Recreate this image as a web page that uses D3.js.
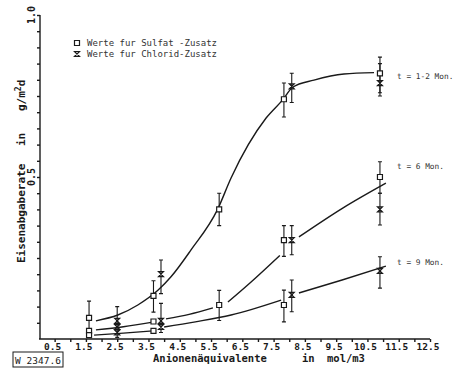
<html>
  <head>
    <meta charset="utf-8">
    <script src="https://d3js.org/d3.v7.min.js"></script>
    <style type="text/css">
      body {
        margin: 0;
        padding: 0;
        background: #fff;
      }
      text {
        font-family: 'DejaVu Sans Mono', monospace;
        fill: #1a1a1a;
      }
      .mark, .curve, .err, .axis {
        fill: none;
        stroke: #1a1a1a;
      }
    </style>
  </head>
  <body>
    <svg id="chart" width="454" height="368"></svg>

    <script>
      /* Data */
      const xTicks = [0.5, 1.5, 2.5, 3.5, 4.5, 5.5, 6.5, 7.5, 8.5, 9.5, 10.5, 11.5, 12.5]
      const yTicks = [0.5, 1.0]
      const periods = ["t = 1-2 Mon.", "t = 6 Mon.", "t = 9 Mon."]
      const legendLabels = ["Werte fur Sulfat -Zusatz", "Werte fur Chlorid-Zusatz"]

      // Sulfat points: x, y, lower, upper (null = no error bar)
      const sulfat12 = [[1.6, 0.065, 0.02, 0.117], [3.66, 0.133, 0.083, 0.18], [5.76, 0.40, 0.35, 0.45], [7.83, 0.74, 0.685, 0.79], [10.9, 0.82, 0.76, 0.87]]
      const sulfat6 = [[1.6, 0.025, null, null], [3.66, 0.054, null, null], [5.76, 0.105, 0.057, 0.15], [7.83, 0.305, 0.255, 0.35], [10.9, 0.50, 0.45, 0.547]]
      const sulfat9 = [[1.6, 0.012, null, null], [3.66, 0.025, null, null], [7.83, 0.105, 0.053, 0.151]]

      // Chlorid points
      const chlorid12 = [[2.5, 0.056, 0.005, 0.10], [3.9, 0.20, 0.14, 0.244], [8.08, 0.78, 0.73, 0.82], [10.9, 0.79, 0.75, 0.85]]
      const chlorid6 = [[2.5, 0.037, null, null], [3.9, 0.056, 0.02, 0.11], [8.08, 0.305, 0.26, 0.35], [10.9, 0.40, 0.352, 0.45]]
      const chlorid9 = [[2.5, 0.02, null, null], [3.9, 0.037, null, null], [8.08, 0.136, 0.084, 0.182], [10.9, 0.21, 0.157, 0.254]]

      // fitted curves (null = gap in the drawn line)
      const curve12 = [[1.82, 0.056], [2.52, 0.074], [3.16, 0.105], [3.81, 0.151], [4.22, 0.192], [4.86, 0.275], [5.71, 0.40], [6.14, 0.497], [7.26, 0.682], [7.79, 0.738], [8.11, 0.777], [8.79, 0.799], [9.75, 0.818], [10.71, 0.822]]
      const curve6 = [[1.82, 0.028], [2.7, 0.038], [3.64, 0.052], null, [4.06, 0.062], [4.8, 0.076], [5.56, 0.096], null, [6.04, 0.114], [6.78, 0.176], [7.7, 0.258], null, [8.31, 0.315], [9.71, 0.404], [11.09, 0.481]]
      const curve9 = [[1.76, 0.012], [2.7, 0.018], [3.64, 0.025], null, [4.0, 0.037], [5.0, 0.053], [6.14, 0.074], [7.74, 0.12], null, [8.31, 0.142], [9.69, 0.182], [11.09, 0.225]]

      const svg = d3.select("#chart")

      const x = d3.scaleLinear().domain([0, 12.5]).range([39, 430])
      const y = d3.scaleLinear().domain([0, 1]).range([339, 15])

      /* Axes */
      const xAxis = svg.append("g")
        .attr("transform", `translate(0,${y(0)})`)
        .call(d3.axisBottom(x).tickValues(d3.range(0.5, 12.51, 0.5)).tickSize(3).tickFormat(""))
      xAxis.select(".domain").attr("d", `M${x(0)},0H${x(12.5)}`)
      xAxis.selectAll("path, line").attr("stroke", "#1a1a1a").attr("stroke-width", 1.4)

      const yAxis = svg.append("g")
        .attr("transform", `translate(${x(0) + 1},0)`)
        .call(d3.axisLeft(y).tickValues(d3.range(0.05, 1.001, 0.05)).tickSize(3).tickFormat(""))
      yAxis.select(".domain").attr("d", `M0,${y(0)}V${y(1)}`)
      yAxis.selectAll("path, line").attr("stroke", "#1a1a1a").attr("stroke-width", 1.4)

      svg.append("g").selectAll("text")
        .data(xTicks)
        .join("text")
        .attr("x", d => x(d) - 2)
        .attr("y", 349.5)
        .attr("text-anchor", "middle")
        .style("font-size", "9.5px")
        .style("font-weight", "bold")
        .text(d => d.toFixed(1))

      svg.append("g").selectAll("text")
        .data(yTicks)
        .join("text")
        .attr("transform", d => `translate(35,${y(d)}) rotate(-90)`)
        .attr("text-anchor", "middle")
        .style("font-size", "10px")
        .style("font-weight", "bold")
        .text(d => d.toFixed(1))

      // axis titles
      const xTitle = svg.append("g").style("font-size", "10.5px").style("font-weight", "bold")
      xTitle.append("text").attr("x", 153).attr("y", 362).text("Anionenäquivalente")
      xTitle.append("text").attr("x", 302).attr("y", 362).text("in")
      xTitle.append("text").attr("x", 327).attr("y", 362).text("mol/m3")

      const yTitle = svg.append("g").style("font-size", "11px").style("font-weight", "bold")
      yTitle.append("text").attr("transform", "translate(25,263) rotate(-90)").text("Eisenabgaberate")
      yTitle.append("text").attr("transform", "translate(25,146) rotate(-90)").text("in")
      const gm = yTitle.append("text").attr("transform", "translate(25,111) rotate(-90)")
      gm.append("tspan").text("g/m")
      gm.append("tspan").attr("dy", -4).style("font-size", "8px").text("2")
      gm.append("tspan").attr("dy", 4).text("d")

      /* Curves */
      const line = d3.line()
        .defined(d => d !== null)
        .x(d => x(d[0]))
        .y(d => y(d[1]))
        .curve(d3.curveMonotoneX)

      svg.append("g").selectAll("path")
        .data([curve12, curve6, curve9])
        .join("path")
        .attr("class", "curve")
        .attr("stroke-width", 1.4)
        .attr("d", line)

      /* Error bars */
      const allPoints = [].concat(sulfat12, sulfat6, sulfat9, chlorid12, chlorid6, chlorid9)
      const bars = allPoints.filter(d => d[2] !== null)
      const errG = svg.append("g").attr("class", "err").attr("stroke-width", 1.1)
      errG.selectAll("path")
        .data(bars)
        .join("path")
        .attr("d", d => {
          const cx = x(d[0]), y0 = y(d[2]), y1 = y(d[3])
          return `M${cx},${y0}V${y1}M${cx - 2},${y0}H${cx + 2}M${cx - 2},${y1}H${cx + 2}`
        })

      /* Markers */
      const squarePath = s => `M${-s},${-s}H${s}V${s}H${-s}Z`
      const hourglassPath = s => `M${-s},${-s}H${s}L${-s},${s}H${s}Z`

      svg.append("g").selectAll("path")
        .data([].concat(sulfat12, sulfat6, sulfat9))
        .join("path")
        .attr("class", "mark")
        .attr("transform", d => `translate(${x(d[0])},${y(d[1])})`)
        .attr("d", squarePath(2.5))
        .style("fill", "#fff")
        .attr("stroke-width", 1.2)

      svg.append("g").selectAll("path")
        .data([].concat(chlorid12, chlorid6, chlorid9))
        .join("path")
        .attr("class", "mark")
        .attr("transform", d => `translate(${x(d[0])},${y(d[1])})`)
        .attr("d", hourglassPath(2.5))
        .attr("stroke-width", 1.2)

      /* Legend */
      const legend = svg.append("g")
      legend.append("path").attr("class", "mark").attr("stroke-width", 1.2)
        .attr("transform", "translate(77,43)").attr("d", squarePath(2.5))
      legend.append("path").attr("class", "mark").attr("stroke-width", 1.2)
        .attr("transform", "translate(77,54)").attr("d", hourglassPath(2.5))
      legend.selectAll("text")
        .data(legendLabels)
        .join("text")
        .attr("x", 87)
        .attr("y", (d, i) => 46 + i * 11)
        .style("font-size", "9px")
        .style("fill", "#333")
        .text(d => d)

      /* Curve labels */
      svg.append("g").selectAll("text")
        .data(periods)
        .join("text")
        .attr("x", 397)
        .attr("y", (d, i) => [79, 169, 265][i])
        .style("font-size", "7.8px")
        .style("fill", "#333")
        .text(d => d)

      /* Figure number box */
      svg.append("rect")
        .attr("x", 13).attr("y", 352).attr("width", 50).attr("height", 15)
        .style("fill", "none").style("stroke", "#1a1a1a").style("stroke-width", 1)
      svg.append("text")
        .attr("x", 38).attr("y", 363.5)
        .attr("text-anchor", "middle")
        .style("font-size", "9.5px")
        .text("W 2347.6")
    </script>
  </body>
</html>
